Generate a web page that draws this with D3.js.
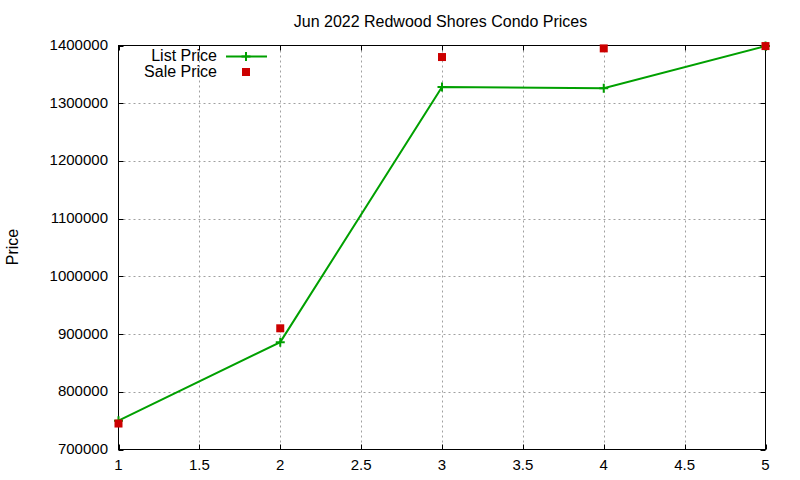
<!DOCTYPE html>
<html><head><meta charset="utf-8">
<script src="https://cdn.jsdelivr.net/npm/d3@7"></script>
<style>body{margin:0;background:#fff}svg{display:block}text{font-family:"Liberation Sans",Arial,sans-serif;font-size:16px;fill:#000}text.tick{font-size:15px}</style>
</head><body><svg id="c" width="800" height="480"></svg>
<script>
const xValues = [1, 2, 3, 4, 5];
const listPrice = [750000, 886000, 1328000, 1326000, 1399000];
const salePrice = [745000, 910000, 1380000, 1395000, 1399000];
const xTicks = [1, 1.5, 2, 2.5, 3, 3.5, 4, 4.5, 5];
const yTicks = [700000, 800000, 900000, 1000000, 1100000, 1200000, 1300000, 1400000];
const title = "Jun 2022 Redwood Shores Condo Prices";
const yLabel = "Price";
const seriesNames = ["List Price", "Sale Price"];

const svg = d3.select("#c");
const L = 118.5, R = 765.5, T = 45.5, B = 449.5;
const x = d3.scaleLinear().domain([1, 5]).range([L, R]);
const y = d3.scaleLinear().domain([700000, 1400000]).range([B, T]);
const green = "#00a000", red = "#cc0000";

// grid
const g = svg.append("g");
g.selectAll(".gx").data(xTicks.slice(1, -1)).join("line")
  .attr("x1", d => Math.round(x(d)) + 0.5).attr("x2", d => Math.round(x(d)) + 0.5)
  .attr("y1", T).attr("y2", B)
  .attr("stroke", "#a0a0a0").attr("stroke-dasharray", "2,3");
g.selectAll(".gy").data(yTicks.slice(1, -1)).join("line")
  .attr("y1", d => Math.round(y(d)) + 0.5).attr("y2", d => Math.round(y(d)) + 0.5)
  .attr("x1", L).attr("x2", R)
  .attr("stroke", "#a0a0a0").attr("stroke-dasharray", "2,3");

// axes (ticks inward, mirrored)
const tk = 5;
const ax = svg.append("g").attr("stroke", "#000");
xTicks.forEach(d => {
  const px = Math.round(x(d)) + 0.5;
  ax.append("line").attr("x1", px).attr("x2", px).attr("y1", B).attr("y2", B - tk);
  ax.append("line").attr("x1", px).attr("x2", px).attr("y1", T).attr("y2", T + tk);
});
yTicks.forEach(d => {
  const py = Math.round(y(d)) + 0.5;
  ax.append("line").attr("x1", L).attr("x2", L + tk).attr("y1", py).attr("y2", py);
  ax.append("line").attr("x1", R).attr("x2", R - tk).attr("y1", py).attr("y2", py);
});
svg.append("rect").attr("x", L).attr("y", T).attr("width", R - L).attr("height", B - T)
  .attr("fill", "none").attr("stroke", "#000");

svg.selectAll(".xl").data(xTicks).join("text").attr("class", "tick")
  .attr("x", d => x(d)).attr("y", 469.5).attr("text-anchor", "middle")
  .text(d => d3.format("")(d));
svg.selectAll(".yl").data(yTicks).join("text").attr("class", "tick")
  .attr("x", 108).attr("y", d => y(d) + 4.5).attr("text-anchor", "end")
  .text(d => d);

svg.append("text").attr("x", 440.5).attr("y", 26.5).attr("text-anchor", "middle").text(title);
svg.append("text").attr("transform", "translate(18,247) rotate(-90)").attr("text-anchor", "middle").text(yLabel);

// list line
const pts = xValues.map((v, i) => [x(v), y(listPrice[i])]);
svg.append("path").attr("d", d3.line()(pts)).attr("fill", "none")
  .attr("stroke", green).attr("stroke-width", 2);
const plus = (cx, cy) => `M${cx - 4.5},${cy}H${cx + 4.5}M${cx},${cy - 4.5}V${cy + 4.5}`;
svg.selectAll(".lp").data(pts).join("path").attr("d", d => plus(d[0], d[1]))
  .attr("stroke", green).attr("stroke-width", 2).attr("fill", "none");

// sale squares
svg.selectAll(".sp").data(xValues).join("rect")
  .attr("x", (d, i) => x(d) - 4).attr("y", (d, i) => y(salePrice[i]) - 4)
  .attr("width", 8).attr("height", 8).attr("fill", red);

// legend
svg.append("text").attr("x", 217).attr("y", 61).attr("text-anchor", "end").text(seriesNames[0]);
svg.append("line").attr("x1", 226).attr("x2", 267).attr("y1", 56.5).attr("y2", 56.5)
  .attr("stroke", green).attr("stroke-width", 2);
svg.append("path").attr("d", plus(246, 56.5)).attr("stroke", green).attr("stroke-width", 2);
svg.append("text").attr("x", 217).attr("y", 76.5).attr("text-anchor", "end").text(seriesNames[1]);
svg.append("rect").attr("x", 242).attr("y", 68).attr("width", 8).attr("height", 8).attr("fill", red);
</script></body></html>
